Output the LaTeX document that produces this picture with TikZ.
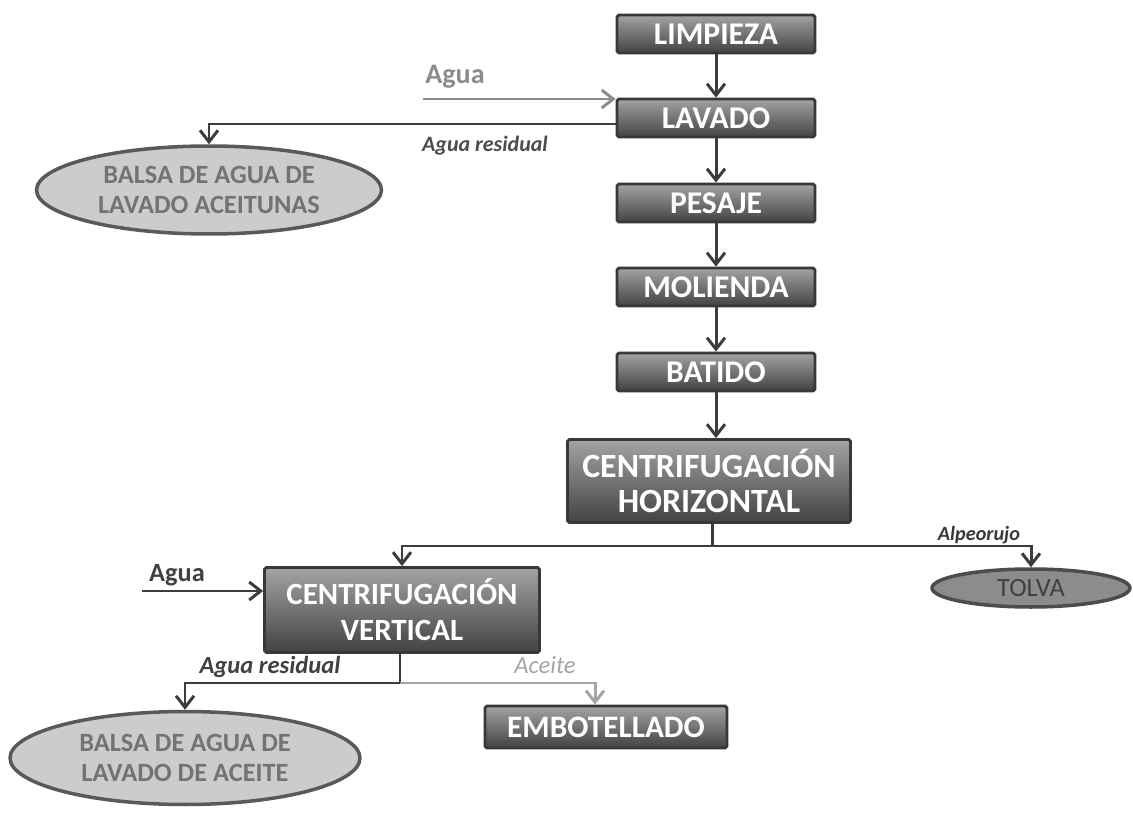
\documentclass[tikz,border=0pt]{standalone}
\usepackage{fontspec}
\setmainfont{Carlito}
\usetikzlibrary{arrows.meta, positioning, calc, shapes.geometric}
\definecolor{flowdark}{RGB}{60, 60, 60}
\definecolor{flowgray}{RGB}{140, 140, 140}
\definecolor{flowlight}{RGB}{165, 165, 165}
\tikzset{
    procbox/.style={rectangle, draw=black!78, line width=1.6pt, rounded corners=1pt, top color=black!36,
                    bottom color=black!74, text=white, font=\bfseries\fontsize{18}{20}\selectfont,
                    minimum width=3.96cm, minimum height=0.76cm, align=center, inner sep=1pt},
    bigbox/.style={procbox, font=\bfseries\fontsize{19.3}{20}\selectfont, minimum width=5.6cm, minimum height=1.66cm},
    balsa/.style={ellipse, draw=black!65, line width=2pt, fill=black!20, text=black!55,
                  font=\bfseries\fontsize{15}{17}\selectfont, minimum width=6.9cm, minimum height=1.76cm,
                  align=center, inner sep=0pt},
    tolvabox/.style={ellipse, draw=black!70, line width=2pt, fill=black!45, text=black!75,
                     font=\fontsize{15}{15}\selectfont, minimum width=3.96cm, minimum height=0.76cm, inner sep=0pt},
    arrow/.style={-{Straight Barb[length=2.3mm, width=3.6mm, line width=1.7pt]}, line width=1.7pt, flowdark},
    grayarrow/.style={arrow, flowgray},
    lightarrow/.style={arrow, flowlight},
    flowline/.style={line width=1.7pt, flowdark},
    lbl/.style={font=\bfseries\fontsize{12.5}{14}\selectfont, anchor=base},
}

\begin{document}
\begin{tikzpicture}[x=0.02cm, y=-0.02cm]
    \useasboundingbox (0,0) rectangle (1133,824);

    % main line
    \node[procbox] (limpieza) at (716, 34) {LIMPIEZA};
    \node[procbox] (lavado) at (716, 118) {LAVADO};
    \node[procbox] (pesaje) at (716, 203) {PESAJE};
    \node[procbox] (molienda) at (716, 287) {MOLIENDA};
    \node[procbox] (batido) at (716, 372) {BATIDO};
    \node[bigbox, minimum width=5.66cm] (chor) at (709, 481) {CENTRIFUGACIÓN\\HORIZONTAL};
    \node[bigbox, font=\bfseries\fontsize{17.6}{20.5}\selectfont, minimum width=5.5cm, minimum height=1.7cm] (cver) at (402, 610) {CENTRIFUGACIÓN\\VERTICAL};
    \node[procbox, font=\bfseries\fontsize{17.8}{18}\selectfont, minimum width=4.84cm, minimum height=0.84cm] (embot) at (606, 727) {EMBOTELLADO};

    % outputs
    \node[balsa] (balsaA) at (209, 190) {BALSA DE AGUA DE\\LAVADO ACEITUNAS};
    \node[balsa, minimum width=7cm, minimum height=1.86cm] (balsaB) at (185, 758) {BALSA DE AGUA DE\\LAVADO DE ACEITE};
    \node[tolvabox] (tolva) at (1031, 588) {TOLVA};

    \coordinate (aguaA) at (423, 99);
    \coordinate (aguaB) at (142, 591);
    \coordinate (splitA) at (712, 546);
    \coordinate (splitB) at (400, 683);

    \draw[arrow] (limpieza) -- (lavado);
    \draw[arrow] (lavado) -- (pesaje);
    \draw[arrow] (pesaje) -- (molienda);
    \draw[arrow] (molienda) -- (batido);
    \draw[arrow] (batido) -- (batido |- chor.north);

    \draw[grayarrow] (aguaA) -- (aguaA -| lavado.west);
    \draw[arrow] ([yshift=-0.12cm]lavado.west) -| (balsaA.north);

    \draw[flowline] (chor.south -| splitA) -- (splitA);
    \draw[arrow] (splitA) -| (cver.north);
    \draw[arrow] (splitA) -| (tolva.north);

    \draw[arrow] (aguaB) -- (aguaB -| cver.west);
    \draw[flowline] (cver.south -| splitB) -- (splitB);
    \draw[arrow] (splitB) -| (balsaB.north);
    \draw[lightarrow] (splitB) -| ([xshift=-0.22cm]embot.north);

    % labels
    \node[lbl, text=flowgray, font=\bfseries\fontsize{16}{18}\selectfont] (lagua1) at (455, 84) {Agua};
    \node[lbl, text=black!70] (lres1) at (485, 152) {\itshape Agua residual};
    \node[lbl, text=black!78, font=\bfseries\fontsize{11.5}{14}\selectfont] (lalpe) at (979, 540) {\itshape Alpeorujo};
    \node[lbl, text=black!75, font=\bfseries\fontsize{15}{18}\selectfont] (lagua2) at (177, 581) {Agua};
    \node[lbl, text=black!75, font=\bfseries\fontsize{14}{16}\selectfont] (lres2) at (270, 673) {\itshape Agua residual};
    \node[lbl, text=flowlight, font=\fontsize{14}{16}\selectfont] (laceite) at (545, 673) {\itshape Aceite};
\end{tikzpicture}
\end{document}
